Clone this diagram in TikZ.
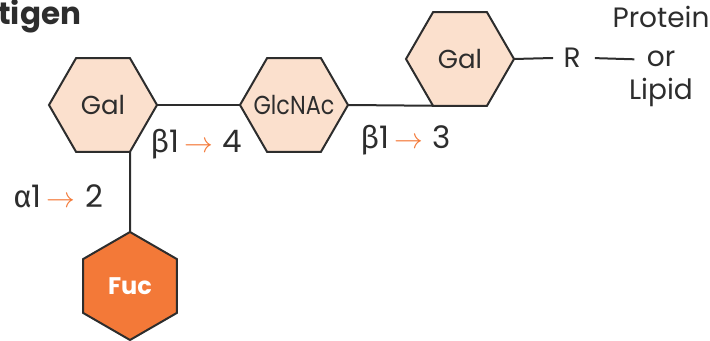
\documentclass[tikz,border=0pt]{standalone}
\usepackage{fontspec}
\usepackage{graphicx}
\setmainfont{Poppins}
\newfontfamily\grk{Fira Sans}
\usetikzlibrary{shapes.geometric}

\definecolor{ink}{RGB}{45,45,45}
\definecolor{sugarfill}{RGB}{251,224,205}
\definecolor{fucfill}{RGB}{243,121,56}
\definecolor{linkorange}{RGB}{243,121,56}

\begin{document}
\begin{tikzpicture}[x=0.5pt,y=-0.5pt]
		\newcommand{\hexsize}{54pt} % diameter of the rings
		\newcommand{\bondw}{1pt} % width of bonds and outlines
		\newcommand{\arr}{\,\textcolor{linkorange}{$\rightarrow$}\hspace{5pt}} % orange arrow in the labels

		% ring and label styles
		\tikzset{
			sugar/.style={
				regular polygon,
				regular polygon sides=6,
				minimum size=\hexsize,
				inner sep=0pt, outer sep=0pt,
				draw=ink, line width=\bondw,
				fill=sugarfill, text=ink,
				font=\fontsize{13}{13}\selectfont
				},
			fucose/.style={
				sugar,
				shape border rotate=30,
				fill=fucfill, text=white,
				font=\bfseries\fontsize{12}{12}\selectfont
				},
			link/.style={
				anchor=base west, inner sep=0pt, text=ink,
				font=\fontsize{15.5}{15.5}\selectfont
				},
			tail/.style={
				anchor=base, inner sep=2pt, text=ink,
				font=\fontsize{14}{14}\selectfont
				},
			bond/.style={
				draw=ink, line width=\bondw
				}
		}

		\useasboundingbox (0,0) rectangle (710,341);

		% heading, cut at the left edge
		\node[anchor=base west, inner sep=0pt, text=ink, font=\bfseries\fontsize{15.5}{15.5}\selectfont] (title) at (-2,25) {tigen};

		% sugar rings
		\node[sugar] (gal) at (103,105) {Gal};
		\node[sugar] (glc) at (294,105) {\makebox[0pt]{\scalebox{0.86}[1]{GlcNAc}}};
		\node[sugar] (galb) at (460,59) {Gal};
		\node[fucose] (fuc) at (130,286) {Fuc};

		% aglycone
		\node[anchor=center, inner sep=5pt, text=ink, font=\fontsize{14}{14}\selectfont] (r) at (572,58) {R};
		\node[tail] (prot) at (661,28) {Protein};
		\node[tail, inner xsep=6pt] (or) at (661,67) {or};
		\node[tail] (lipid) at (661,100) {Lipid};

		% bonds
		\draw[bond] (gal.0) -- (glc.180);
		\draw[bond] (glc.0) -- (galb.240);
		\draw[bond] (gal.-60) -- (fuc.90);
		\draw[bond] (galb.0) -- (r.west);
		\draw[bond, shorten <=2pt] (r.east) -- (or.west);

		% linkage labels
		\node[link] (b14) at (150,153) {{\grk β}1\arr 4};
		\node[link] (b13) at (360,149) {{\grk β}1\arr 3};
		\node[link] (a12) at (13,208) {{\grk α}1\arr 2};
\end{tikzpicture}
\end{document}
